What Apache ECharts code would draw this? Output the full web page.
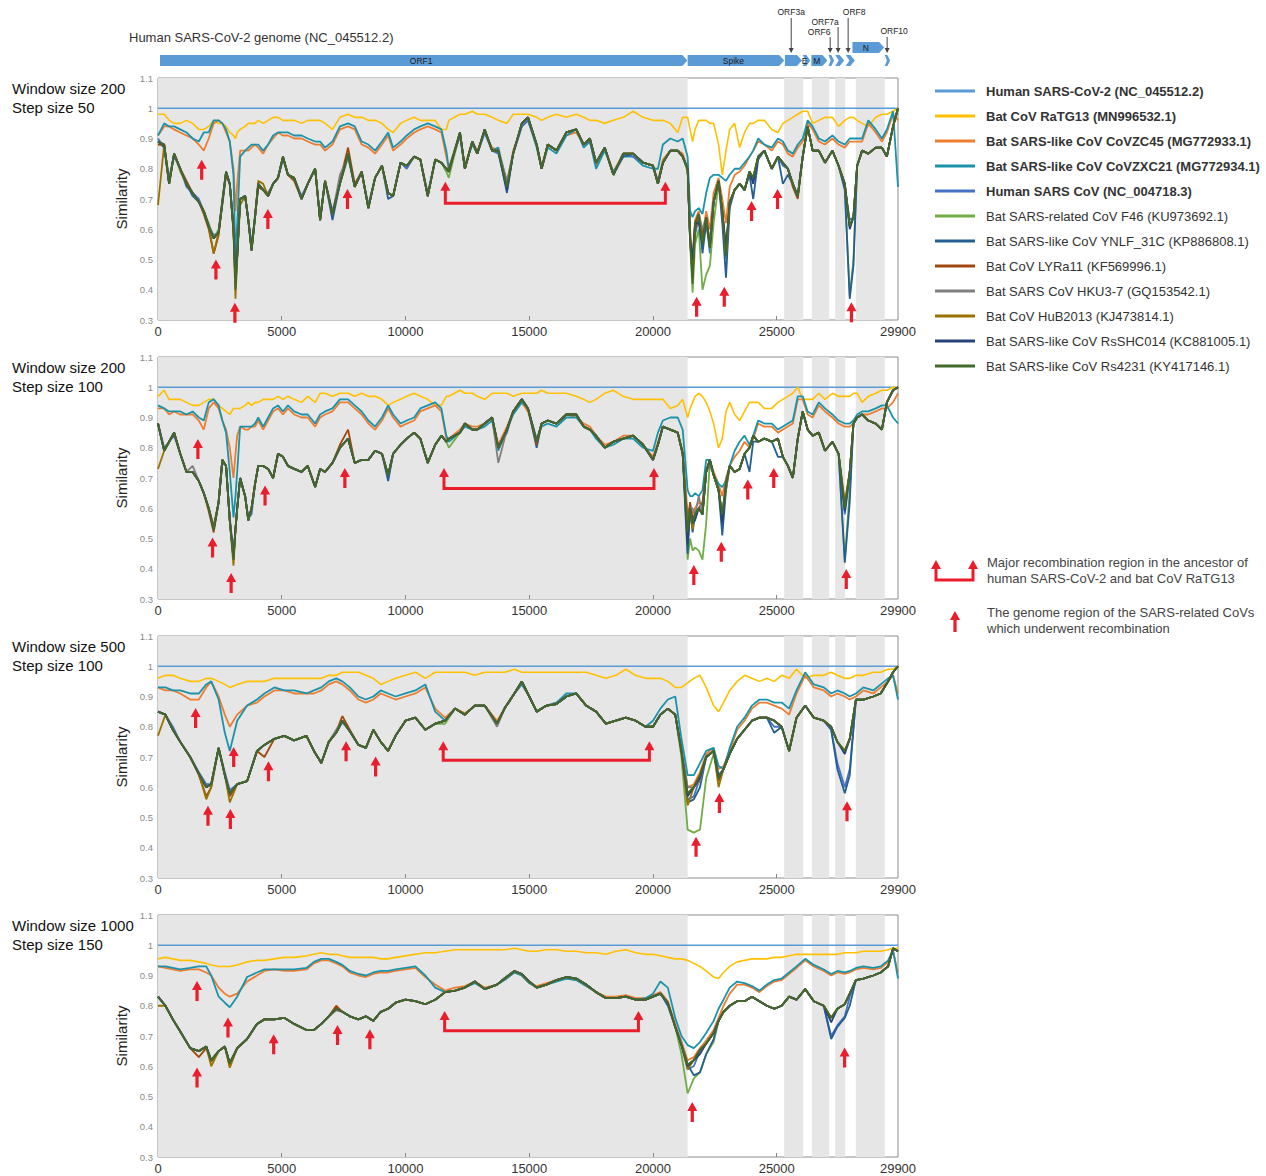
<!DOCTYPE html>
<html><head><meta charset="utf-8">
<script src="https://cdn.jsdelivr.net/npm/echarts@6/dist/echarts.min.js"></script>
<style>html,body{margin:0;padding:0;background:#fff}#c{width:1266px;height:1176px}</style>
</head><body><div id="c"></div>
<script>
// ================= DATA =================
const seriesNames = [
  'Human SARS-CoV-2 (NC_045512.2)','Bat CoV RaTG13 (MN996532.1)','Bat SARS-like CoV CoVZC45 (MG772933.1)',
  'Bat SARS-like CoV CoVZXC21 (MG772934.1)','Human SARS CoV (NC_004718.3)','Bat SARS-related CoV F46 (KU973692.1)',
  'Bat SARS-like CoV YNLF_31C (KP886808.1)','Bat CoV LYRa11 (KF569996.1)','Bat SARS CoV HKU3-7 (GQ153542.1)',
  'Bat CoV HuB2013 (KJ473814.1)','Bat SARS-like CoV RsSHC014 (KC881005.1)','Bat SARS-like CoV Rs4231 (KY417146.1)'];
const boldNames = seriesNames.slice(0,5);
const panelTitles = [['Window size 200','Step size 50'],['Window size 200','Step size 100'],['Window size 500','Step size 100'],['Window size 1000','Step size 150']];
const xTickLabels = [0,5000,10000,15000,20000,25000,29900];
const xTickMarks = [5000,10000,15000,20000,25000];
const yAxisName = 'Similarity';

const genomeTitle = 'Human SARS-CoV-2 genome (NC_045512.2)';
const geneNames  = ['ORF1','Spike','ORF3a','E','M','ORF6','ORF7a','ORF8','N','ORF10'];
const geneStarts = [80,21400,25330,26050,26400,27090,27360,27790,28060,29365];
const geneEnds   = [21390,25300,26020,26350,27050,27320,27725,28155,29340,29580];
const calloutNames = ['ORF3a','ORF6','ORF7a','ORF8','ORF10'];
const calloutPos   = [25585,27160,27480,27885,29460];
const shadedStarts = [0,25302,26420,27360,28195];
const shadedEnds   = [21400,26070,27120,27764,29366];

const legendNote1 = ['Major recombination region in the ancestor of','human SARS-CoV-2 and bat CoV RaTG13'];
const legendNote2 = ['The genome region of the SARS-related CoVs','which underwent recombination'];

// Human SARS-CoV-2 vs itself: flat line at 1
const sars2Pos = [0,29900];
const sars2Val = [1,1];

// sampling positions (bp) for the two window-200 panels
const pos12 = [0,250,450,650,900,1150,1400,1650,1850,2050,
2250,2450,2600,2750,2900,3050,3130,3200,3320,3520,
3650,3780,3920,4050,4250,4450,4650,4850,5050,5250,
5500,5800,6050,6350,6550,6750,7050,7350,7680,7950,
8230,8500,8770,9050,9300,9500,9800,10050,10350,10600,
10900,11200,11450,11650,11750,12200,12400,12700,12900,13200,
13500,13750,14100,14350,14700,14950,15300,15500,15750,16100,
16500,16900,17200,17450,17700,18050,18400,18800,19200,19600,
20000,20200,20400,20700,21000,21200,21400,21500,21600,21700,
21850,22000,22150,22300,22450,22650,22800,22950,23100,23300,
23500,23700,23900,24050,24250,24500,24800,25050,25250,25450,
25650,25850,26050,26250,26450,26700,26950,27250,27500,27750,
27950,28100,28250,28450,28700,29000,29250,29450,29700,29900];
// sampling positions (bp) for the window-500 and window-1000 panels
const pos34 = [0,300,600,900,1300,1650,1950,2150,2450,2700,
2900,3200,3600,4000,4300,4700,5100,5500,6000,6300,
6600,6900,7200,7450,7750,8100,8400,8700,9000,9300,
9600,10000,10400,10800,11200,11600,12000,12400,12800,13200,
13700,14000,14400,14700,15000,15300,15700,16100,16500,16900,
17300,17700,18100,18500,18900,19300,19700,20000,20300,20600,
20900,21150,21400,21650,21900,22150,22450,22650,22850,23100,
23400,23700,24000,24300,24600,24900,25200,25500,25800,26150,
26500,26900,27200,27450,27750,27950,28200,28500,28900,29200,
29500,29700,29900];

// ---------- Panel 1 (window 200, step 50) ----------
const p1_RaTG13 = [0.98,0.98,0.96,0.95,0.95,0.96,0.95,0.93,0.93,0.94,
0.96,0.95,0.95,0.94,0.92,0.91,0.90,0.92,0.93,0.94,
0.95,0.95,0.95,0.96,0.95,0.96,0.97,0.97,0.96,0.96,
0.96,0.95,0.96,0.96,0.96,0.95,0.93,0.97,0.98,0.97,
0.97,0.96,0.96,0.95,0.93,0.92,0.95,0.96,0.97,0.96,
0.96,0.96,0.93,0.93,0.96,0.98,0.98,0.99,0.98,0.98,
0.97,0.96,0.95,0.98,0.98,0.98,0.97,0.96,0.97,0.98,
0.97,0.98,0.97,0.96,0.96,0.95,0.96,0.97,0.99,0.97,
0.96,0.96,0.96,0.95,0.92,0.97,0.97,0.93,0.89,0.93,
0.96,0.96,0.96,0.95,0.95,0.88,0.78,0.86,0.93,0.95,
0.87,0.92,0.95,0.95,0.96,0.96,0.93,0.92,0.95,0.96,
0.97,0.98,0.99,0.99,0.95,0.96,0.97,0.97,0.94,0.96,
0.97,0.97,0.96,0.95,0.94,0.97,0.98,0.98,0.99,1.00];
const p1_CoVZC45 = [0.91,0.94,0.94,0.93,0.92,0.91,0.90,0.88,0.86,0.90,
0.95,0.96,0.95,0.92,0.89,0.80,0.66,0.75,0.86,0.86,
0.86,0.87,0.88,0.87,0.85,0.88,0.90,0.92,0.91,0.91,
0.90,0.90,0.89,0.88,0.88,0.86,0.88,0.93,0.94,0.93,
0.88,0.87,0.85,0.88,0.91,0.86,0.88,0.90,0.92,0.93,
0.94,0.93,0.92,0.84,0.80,0.91,0.81,0.89,0.86,0.92,
0.87,0.86,0.75,0.86,0.94,0.96,0.88,0.81,0.88,0.86,
0.91,0.92,0.88,0.89,0.81,0.87,0.79,0.85,0.85,0.82,
0.81,0.76,0.83,0.86,0.86,0.85,0.80,0.60,0.50,0.63,
0.66,0.58,0.66,0.60,0.72,0.77,0.70,0.62,0.74,0.78,
0.79,0.81,0.84,0.86,0.89,0.88,0.86,0.89,0.88,0.85,
0.84,0.87,0.89,0.95,0.93,0.89,0.88,0.90,0.88,0.87,
0.89,0.89,0.89,0.89,0.95,0.92,0.89,0.92,0.98,0.96];
const p1_CoVZXC21 = [0.91,0.95,0.94,0.94,0.93,0.92,0.90,0.89,0.92,0.92,
0.96,0.96,0.95,0.93,0.89,0.78,0.50,0.62,0.84,0.86,
0.87,0.88,0.88,0.88,0.86,0.88,0.91,0.92,0.92,0.92,
0.91,0.91,0.90,0.89,0.89,0.87,0.89,0.94,0.95,0.94,
0.89,0.88,0.86,0.89,0.92,0.87,0.89,0.91,0.93,0.94,
0.95,0.94,0.93,0.86,0.80,0.91,0.81,0.88,0.85,0.92,
0.86,0.87,0.75,0.85,0.94,0.96,0.87,0.80,0.87,0.85,
0.91,0.93,0.87,0.89,0.80,0.86,0.79,0.84,0.84,0.81,
0.80,0.80,0.88,0.90,0.89,0.90,0.84,0.66,0.64,0.66,
0.67,0.65,0.72,0.77,0.78,0.78,0.77,0.76,0.78,0.80,
0.80,0.82,0.84,0.86,0.90,0.88,0.87,0.90,0.89,0.86,
0.85,0.88,0.90,0.96,0.94,0.90,0.89,0.91,0.89,0.88,
0.90,0.90,0.90,0.90,0.96,0.93,0.90,0.93,0.99,0.74];
const p1_SARS = [0.90,0.87,0.77,0.84,0.80,0.74,0.72,0.70,0.66,0.61,
0.58,0.59,0.68,0.78,0.75,0.61,0.44,0.52,0.70,0.71,
0.63,0.55,0.64,0.74,0.73,0.72,0.75,0.77,0.83,0.78,
0.77,0.71,0.75,0.80,0.64,0.76,0.66,0.75,0.84,0.74,
0.79,0.68,0.77,0.81,0.72,0.71,0.82,0.80,0.84,0.83,
0.72,0.83,0.82,0.80,0.79,0.91,0.80,0.89,0.85,0.92,
0.86,0.85,0.73,0.85,0.94,0.96,0.88,0.80,0.88,0.86,
0.92,0.93,0.88,0.89,0.82,0.87,0.78,0.85,0.84,0.82,
0.81,0.76,0.82,0.86,0.86,0.84,0.80,0.56,0.45,0.58,
0.64,0.57,0.63,0.52,0.69,0.76,0.66,0.53,0.69,0.73,
0.75,0.73,0.79,0.76,0.84,0.86,0.80,0.84,0.81,0.80,
0.75,0.71,0.84,0.94,0.86,0.86,0.82,0.86,0.81,0.74,
0.63,0.64,0.81,0.86,0.85,0.87,0.87,0.84,0.94,1.00];
const p1_F46 = [0.88,0.88,0.76,0.85,0.79,0.75,0.72,0.69,0.66,0.62,
0.57,0.60,0.69,0.79,0.75,0.60,0.42,0.51,0.70,0.71,
0.63,0.53,0.65,0.75,0.73,0.71,0.75,0.77,0.84,0.78,
0.77,0.70,0.75,0.80,0.63,0.76,0.65,0.75,0.84,0.74,
0.79,0.67,0.77,0.81,0.72,0.71,0.82,0.81,0.84,0.83,
0.71,0.83,0.82,0.79,0.77,0.92,0.80,0.89,0.85,0.93,
0.86,0.86,0.74,0.85,0.95,0.97,0.88,0.80,0.88,0.86,
0.92,0.93,0.88,0.90,0.82,0.87,0.78,0.85,0.85,0.82,
0.81,0.75,0.82,0.86,0.86,0.84,0.79,0.55,0.39,0.55,
0.60,0.40,0.45,0.48,0.62,0.75,0.66,0.50,0.69,0.73,
0.75,0.73,0.79,0.77,0.84,0.86,0.80,0.84,0.82,0.80,
0.75,0.71,0.84,0.94,0.86,0.86,0.82,0.86,0.81,0.74,
0.38,0.50,0.81,0.86,0.85,0.87,0.87,0.84,0.94,1.00];
const p1_YNLF = [0.89,0.87,0.75,0.85,0.80,0.75,0.71,0.69,0.66,0.61,
0.57,0.59,0.69,0.79,0.75,0.61,0.45,0.52,0.70,0.71,
0.63,0.54,0.64,0.75,0.73,0.71,0.75,0.77,0.84,0.78,
0.77,0.70,0.75,0.80,0.63,0.76,0.63,0.75,0.85,0.74,
0.79,0.67,0.77,0.81,0.70,0.71,0.82,0.81,0.84,0.83,
0.71,0.83,0.82,0.80,0.79,0.92,0.80,0.89,0.85,0.93,
0.86,0.86,0.72,0.85,0.95,0.97,0.88,0.80,0.88,0.86,
0.92,0.93,0.88,0.90,0.82,0.87,0.78,0.84,0.85,0.82,
0.81,0.75,0.82,0.86,0.86,0.84,0.80,0.56,0.46,0.60,
0.64,0.52,0.62,0.54,0.69,0.76,0.62,0.44,0.67,0.73,
0.75,0.73,0.78,0.70,0.83,0.86,0.80,0.84,0.75,0.78,
0.75,0.71,0.84,0.94,0.86,0.86,0.82,0.86,0.81,0.73,
0.37,0.48,0.81,0.86,0.85,0.87,0.87,0.84,0.94,1.00];
const p1_LYRa11 = [0.88,0.88,0.75,0.85,0.80,0.76,0.72,0.69,0.65,0.60,
0.52,0.58,0.69,0.78,0.75,0.60,0.42,0.51,0.70,0.71,
0.63,0.53,0.64,0.74,0.73,0.71,0.75,0.77,0.84,0.78,
0.76,0.70,0.75,0.80,0.63,0.76,0.65,0.76,0.87,0.75,
0.79,0.67,0.77,0.81,0.72,0.71,0.82,0.81,0.84,0.83,
0.71,0.83,0.82,0.80,0.80,0.92,0.80,0.89,0.85,0.93,
0.86,0.86,0.74,0.85,0.95,0.97,0.88,0.80,0.88,0.86,
0.92,0.93,0.88,0.90,0.82,0.87,0.78,0.85,0.85,0.82,
0.81,0.75,0.82,0.86,0.86,0.84,0.80,0.57,0.44,0.60,
0.65,0.58,0.64,0.55,0.69,0.76,0.66,0.52,0.69,0.73,
0.75,0.73,0.79,0.77,0.84,0.86,0.80,0.84,0.82,0.80,
0.74,0.70,0.84,0.94,0.86,0.86,0.82,0.86,0.81,0.75,
0.61,0.64,0.81,0.86,0.85,0.87,0.87,0.84,0.94,1.00];
const p1_HKU3 = [0.89,0.88,0.76,0.85,0.80,0.75,0.72,0.69,0.66,0.61,
0.57,0.59,0.70,0.79,0.75,0.60,0.41,0.51,0.70,0.71,
0.63,0.53,0.64,0.75,0.73,0.71,0.75,0.77,0.84,0.78,
0.77,0.70,0.75,0.80,0.63,0.76,0.65,0.78,0.84,0.74,
0.79,0.67,0.77,0.81,0.72,0.71,0.82,0.81,0.84,0.83,
0.71,0.83,0.82,0.80,0.79,0.92,0.80,0.89,0.85,0.93,
0.86,0.86,0.76,0.85,0.95,0.97,0.88,0.80,0.88,0.86,
0.92,0.93,0.88,0.90,0.82,0.87,0.78,0.85,0.85,0.82,
0.81,0.75,0.82,0.86,0.86,0.84,0.80,0.58,0.47,0.62,
0.65,0.60,0.64,0.56,0.69,0.76,0.66,0.51,0.69,0.73,
0.75,0.73,0.79,0.77,0.84,0.86,0.80,0.84,0.82,0.80,
0.75,0.71,0.84,0.94,0.86,0.86,0.82,0.86,0.81,0.75,
0.61,0.64,0.81,0.86,0.85,0.87,0.87,0.84,0.94,1.00];
const p1_HuB2013 = [0.68,0.88,0.75,0.85,0.80,0.75,0.72,0.69,0.66,0.61,
0.52,0.59,0.69,0.79,0.75,0.59,0.37,0.50,0.68,0.71,
0.63,0.53,0.64,0.76,0.75,0.71,0.75,0.77,0.84,0.78,
0.77,0.70,0.75,0.80,0.63,0.76,0.65,0.75,0.85,0.74,
0.79,0.67,0.77,0.81,0.72,0.71,0.82,0.81,0.84,0.83,
0.71,0.83,0.82,0.80,0.79,0.92,0.80,0.89,0.85,0.93,
0.86,0.86,0.74,0.85,0.95,0.97,0.88,0.80,0.88,0.86,
0.92,0.93,0.88,0.90,0.82,0.87,0.78,0.85,0.85,0.82,
0.81,0.75,0.82,0.86,0.86,0.84,0.80,0.57,0.44,0.62,
0.65,0.56,0.64,0.54,0.69,0.76,0.66,0.52,0.69,0.73,
0.75,0.73,0.79,0.77,0.84,0.86,0.80,0.84,0.82,0.80,
0.75,0.71,0.84,0.94,0.86,0.86,0.82,0.86,0.81,0.75,
0.61,0.64,0.81,0.86,0.85,0.87,0.87,0.84,0.94,1.00];
const p1_RsSHC014 = [0.89,0.88,0.75,0.85,0.80,0.75,0.72,0.69,0.66,0.61,
0.57,0.59,0.69,0.79,0.75,0.60,0.44,0.51,0.70,0.71,
0.63,0.53,0.64,0.75,0.73,0.71,0.75,0.77,0.84,0.78,
0.77,0.70,0.75,0.80,0.63,0.76,0.65,0.75,0.85,0.74,
0.79,0.67,0.77,0.81,0.72,0.71,0.82,0.81,0.84,0.83,
0.71,0.83,0.82,0.80,0.79,0.92,0.80,0.89,0.85,0.93,
0.86,0.86,0.73,0.85,0.95,0.97,0.88,0.80,0.88,0.86,
0.92,0.93,0.88,0.90,0.82,0.87,0.78,0.85,0.85,0.82,
0.81,0.75,0.82,0.86,0.86,0.84,0.80,0.57,0.50,0.62,
0.62,0.55,0.64,0.54,0.69,0.76,0.66,0.54,0.69,0.73,
0.75,0.73,0.79,0.75,0.84,0.86,0.80,0.84,0.82,0.80,
0.75,0.71,0.84,0.94,0.86,0.86,0.82,0.86,0.81,0.75,
0.60,0.64,0.81,0.86,0.85,0.87,0.87,0.84,0.94,1.00];
const p1_Rs4231 = [0.89,0.88,0.75,0.85,0.80,0.75,0.72,0.69,0.66,0.61,
0.57,0.59,0.69,0.79,0.75,0.60,0.40,0.51,0.70,0.71,
0.63,0.53,0.64,0.75,0.73,0.71,0.75,0.77,0.84,0.78,
0.77,0.70,0.75,0.80,0.63,0.76,0.65,0.75,0.85,0.74,
0.79,0.67,0.77,0.81,0.72,0.71,0.82,0.81,0.84,0.83,
0.71,0.83,0.82,0.80,0.79,0.92,0.80,0.89,0.85,0.93,
0.86,0.86,0.74,0.85,0.95,0.97,0.88,0.80,0.88,0.86,
0.92,0.93,0.88,0.90,0.82,0.87,0.78,0.85,0.85,0.82,
0.81,0.75,0.82,0.86,0.86,0.84,0.80,0.57,0.42,0.62,
0.65,0.55,0.64,0.54,0.69,0.76,0.66,0.51,0.69,0.73,
0.75,0.73,0.79,0.77,0.84,0.86,0.80,0.84,0.82,0.80,
0.75,0.71,0.84,0.94,0.86,0.86,0.82,0.86,0.81,0.75,
0.61,0.64,0.81,0.86,0.85,0.87,0.87,0.84,0.94,1.00];
const p1_arrowPos = [1765,2340,3107,4439,7655,21763,22881,23983,25032,28018];
const p1_arrowVal = [0.83,0.50,0.357,0.667,0.733,0.377,0.41,0.693,0.733,0.359];
const p1_bracket = [11610,20500,0.757,0.686];

// ---------- Panel 2 (window 200, step 100) ----------
const p2_RaTG13 = [0.97,0.99,0.96,0.96,0.96,0.95,0.94,0.94,0.95,0.96,
0.96,0.94,0.93,0.92,0.91,0.93,0.93,0.93,0.93,0.94,
0.95,0.94,0.95,0.95,0.96,0.96,0.96,0.97,0.96,0.97,
0.96,0.95,0.97,0.95,0.98,0.98,0.97,0.98,0.98,0.97,
0.98,0.97,0.97,0.96,0.94,0.95,0.96,0.97,0.98,0.97,
0.96,0.94,0.94,0.97,0.97,0.99,0.98,0.98,0.97,0.96,
0.98,0.98,0.98,0.97,0.98,0.98,0.98,0.99,0.98,0.98,
0.98,0.97,0.96,0.95,0.96,0.98,0.99,0.97,0.96,0.96,
0.96,0.96,0.96,0.93,0.94,0.96,0.90,0.93,0.95,0.97,
0.98,0.97,0.95,0.92,0.88,0.80,0.83,0.92,0.95,0.91,
0.89,0.92,0.95,0.95,0.95,0.93,0.93,0.95,0.96,0.97,
0.98,1.00,0.96,0.96,0.96,0.98,0.96,0.98,0.97,0.97,
0.97,0.98,0.98,0.95,0.97,0.98,0.99,0.99,1.00,1.00];
const p2_CoVZC45 = [0.93,0.93,0.91,0.92,0.91,0.91,0.91,0.89,0.86,0.93,
0.95,0.93,0.89,0.86,0.80,0.70,0.78,0.84,0.87,0.86,
0.86,0.87,0.87,0.89,0.86,0.89,0.92,0.93,0.91,0.93,
0.91,0.90,0.90,0.87,0.90,0.91,0.92,0.95,0.95,0.93,
0.91,0.88,0.86,0.89,0.93,0.90,0.87,0.88,0.89,0.92,
0.93,0.94,0.92,0.83,0.83,0.86,0.88,0.87,0.87,0.88,
0.90,0.81,0.87,0.92,0.95,0.92,0.82,0.88,0.89,0.88,
0.91,0.90,0.88,0.87,0.84,0.81,0.82,0.84,0.84,0.81,
0.77,0.82,0.87,0.86,0.85,0.79,0.58,0.61,0.58,0.60,
0.62,0.61,0.73,0.76,0.72,0.68,0.64,0.70,0.74,0.77,
0.79,0.82,0.80,0.83,0.88,0.87,0.87,0.85,0.86,0.87,
0.88,0.96,0.96,0.91,0.90,0.94,0.92,0.90,0.88,0.87,
0.87,0.88,0.90,0.91,0.91,0.92,0.93,0.93,0.95,0.98];
const p2_CoVZXC21 = [0.94,0.93,0.92,0.92,0.92,0.91,0.92,0.90,0.89,0.95,
0.96,0.94,0.89,0.85,0.72,0.57,0.64,0.72,0.87,0.87,
0.87,0.87,0.88,0.90,0.87,0.90,0.93,0.94,0.92,0.94,
0.92,0.91,0.91,0.88,0.91,0.92,0.93,0.96,0.96,0.94,
0.92,0.89,0.87,0.90,0.94,0.91,0.88,0.89,0.90,0.93,
0.94,0.95,0.93,0.84,0.82,0.85,0.87,0.86,0.86,0.87,
0.89,0.79,0.86,0.91,0.95,0.93,0.83,0.87,0.88,0.87,
0.90,0.90,0.87,0.86,0.83,0.80,0.81,0.83,0.83,0.80,
0.79,0.85,0.89,0.90,0.90,0.86,0.66,0.64,0.64,0.65,
0.64,0.66,0.76,0.76,0.71,0.68,0.67,0.69,0.74,0.79,
0.82,0.84,0.81,0.84,0.89,0.88,0.88,0.86,0.87,0.88,
0.89,0.97,0.97,0.92,0.91,0.95,0.93,0.91,0.89,0.88,
0.88,0.89,0.91,0.92,0.92,0.93,0.94,0.94,0.90,0.88];
const p2_SARS = [0.88,0.80,0.82,0.84,0.78,0.72,0.72,0.69,0.65,0.60,
0.54,0.62,0.75,0.74,0.57,0.45,0.53,0.60,0.70,0.64,
0.57,0.58,0.68,0.74,0.74,0.73,0.70,0.78,0.77,0.74,
0.73,0.72,0.74,0.67,0.73,0.72,0.75,0.80,0.83,0.75,
0.76,0.76,0.79,0.78,0.70,0.78,0.81,0.83,0.85,0.83,
0.75,0.81,0.84,0.82,0.83,0.85,0.88,0.86,0.86,0.88,
0.90,0.80,0.85,0.92,0.96,0.93,0.82,0.88,0.89,0.88,
0.91,0.91,0.87,0.86,0.84,0.80,0.82,0.83,0.84,0.81,
0.76,0.81,0.87,0.86,0.85,0.78,0.50,0.60,0.57,0.58,
0.60,0.58,0.72,0.76,0.71,0.66,0.56,0.68,0.74,0.72,
0.73,0.78,0.80,0.84,0.82,0.83,0.82,0.83,0.77,0.74,
0.70,0.83,0.92,0.86,0.84,0.85,0.79,0.82,0.78,0.58,
0.70,0.88,0.90,0.91,0.89,0.88,0.86,0.95,0.99,1.00];
const p2_F46 = [0.88,0.79,0.82,0.85,0.78,0.72,0.72,0.69,0.65,0.60,
0.53,0.62,0.76,0.74,0.56,0.43,0.53,0.60,0.70,0.64,
0.56,0.60,0.68,0.74,0.74,0.73,0.70,0.78,0.77,0.74,
0.73,0.72,0.74,0.67,0.73,0.72,0.75,0.80,0.83,0.75,
0.76,0.76,0.79,0.78,0.71,0.78,0.81,0.83,0.85,0.83,
0.75,0.81,0.84,0.82,0.80,0.85,0.88,0.86,0.86,0.88,
0.90,0.80,0.86,0.92,0.96,0.93,0.82,0.88,0.89,0.88,
0.91,0.91,0.87,0.86,0.84,0.80,0.82,0.83,0.84,0.81,
0.76,0.81,0.87,0.86,0.85,0.78,0.43,0.50,0.46,0.47,
0.46,0.43,0.55,0.76,0.71,0.66,0.58,0.68,0.74,0.72,
0.73,0.78,0.80,0.84,0.82,0.83,0.82,0.83,0.77,0.74,
0.70,0.83,0.92,0.86,0.84,0.85,0.79,0.82,0.78,0.43,
0.66,0.88,0.90,0.91,0.89,0.88,0.86,0.95,0.99,1.00];
const p2_YNLF = [0.88,0.79,0.82,0.85,0.78,0.72,0.72,0.69,0.65,0.60,
0.53,0.62,0.76,0.74,0.56,0.44,0.53,0.60,0.70,0.64,
0.56,0.60,0.68,0.74,0.74,0.73,0.70,0.78,0.77,0.74,
0.73,0.72,0.74,0.67,0.73,0.72,0.75,0.80,0.83,0.75,
0.76,0.76,0.79,0.78,0.69,0.78,0.81,0.83,0.85,0.83,
0.75,0.81,0.84,0.82,0.83,0.85,0.88,0.86,0.86,0.88,
0.90,0.80,0.86,0.92,0.96,0.93,0.80,0.88,0.89,0.88,
0.91,0.91,0.87,0.86,0.84,0.80,0.82,0.83,0.84,0.81,
0.76,0.81,0.87,0.86,0.85,0.78,0.45,0.60,0.52,0.58,
0.60,0.58,0.72,0.76,0.71,0.66,0.51,0.66,0.74,0.72,
0.73,0.78,0.72,0.82,0.82,0.83,0.82,0.77,0.77,0.74,
0.70,0.83,0.92,0.86,0.84,0.85,0.79,0.82,0.78,0.42,
0.62,0.88,0.90,0.91,0.89,0.88,0.86,0.95,0.99,1.00];
const p2_LYRa11 = [0.88,0.79,0.82,0.85,0.78,0.72,0.72,0.69,0.65,0.59,
0.52,0.62,0.76,0.74,0.56,0.43,0.53,0.60,0.70,0.64,
0.56,0.60,0.68,0.74,0.74,0.73,0.70,0.78,0.77,0.74,
0.73,0.72,0.74,0.67,0.73,0.72,0.75,0.81,0.86,0.75,
0.76,0.76,0.79,0.78,0.71,0.78,0.81,0.83,0.85,0.83,
0.75,0.81,0.84,0.82,0.83,0.85,0.88,0.86,0.86,0.88,
0.90,0.80,0.86,0.92,0.96,0.93,0.81,0.88,0.89,0.88,
0.91,0.91,0.87,0.86,0.84,0.80,0.82,0.83,0.84,0.81,
0.76,0.81,0.87,0.86,0.85,0.78,0.55,0.62,0.56,0.58,
0.60,0.62,0.72,0.76,0.71,0.66,0.58,0.68,0.74,0.72,
0.73,0.78,0.80,0.84,0.82,0.83,0.82,0.83,0.77,0.74,
0.70,0.83,0.92,0.86,0.84,0.85,0.79,0.82,0.78,0.61,
0.72,0.88,0.90,0.91,0.89,0.88,0.86,0.95,0.99,1.00];
const p2_HKU3 = [0.88,0.79,0.82,0.85,0.78,0.72,0.74,0.69,0.65,0.60,
0.53,0.62,0.76,0.74,0.56,0.43,0.53,0.60,0.70,0.64,
0.56,0.60,0.68,0.74,0.74,0.73,0.70,0.78,0.77,0.74,
0.73,0.72,0.74,0.67,0.73,0.72,0.75,0.80,0.83,0.75,
0.76,0.76,0.79,0.78,0.71,0.78,0.81,0.83,0.85,0.83,
0.75,0.81,0.84,0.82,0.83,0.85,0.88,0.86,0.86,0.88,
0.90,0.75,0.86,0.92,0.96,0.93,0.82,0.88,0.89,0.88,
0.91,0.91,0.87,0.86,0.84,0.80,0.82,0.83,0.84,0.81,
0.76,0.81,0.87,0.86,0.85,0.78,0.54,0.60,0.60,0.58,
0.64,0.58,0.72,0.74,0.71,0.66,0.58,0.68,0.74,0.72,
0.73,0.78,0.80,0.84,0.82,0.83,0.82,0.83,0.77,0.74,
0.70,0.83,0.92,0.86,0.84,0.85,0.79,0.82,0.78,0.60,
0.72,0.88,0.90,0.91,0.89,0.88,0.86,0.95,0.99,1.00];
const p2_HuB2013 = [0.73,0.79,0.82,0.85,0.78,0.72,0.72,0.69,0.65,0.60,
0.54,0.62,0.76,0.74,0.56,0.41,0.53,0.60,0.70,0.64,
0.56,0.60,0.68,0.74,0.74,0.73,0.70,0.78,0.77,0.74,
0.73,0.72,0.74,0.67,0.73,0.72,0.75,0.80,0.83,0.75,
0.76,0.76,0.79,0.78,0.71,0.78,0.81,0.83,0.85,0.83,
0.75,0.81,0.84,0.82,0.83,0.85,0.88,0.86,0.86,0.88,
0.90,0.80,0.86,0.92,0.96,0.93,0.82,0.88,0.89,0.88,
0.91,0.91,0.87,0.86,0.84,0.80,0.82,0.83,0.84,0.81,
0.76,0.81,0.87,0.86,0.85,0.78,0.52,0.60,0.53,0.58,
0.60,0.58,0.72,0.76,0.71,0.66,0.57,0.66,0.74,0.72,
0.73,0.78,0.80,0.84,0.82,0.83,0.82,0.83,0.77,0.74,
0.70,0.83,0.92,0.86,0.84,0.85,0.79,0.82,0.78,0.62,
0.72,0.88,0.90,0.91,0.89,0.88,0.86,0.95,0.99,1.00];
const p2_RsSHC014 = [0.88,0.79,0.82,0.85,0.78,0.72,0.72,0.69,0.65,0.60,
0.53,0.62,0.76,0.74,0.56,0.44,0.53,0.60,0.70,0.64,
0.56,0.60,0.68,0.74,0.74,0.73,0.70,0.78,0.77,0.74,
0.73,0.72,0.74,0.67,0.73,0.72,0.75,0.80,0.83,0.75,
0.76,0.76,0.79,0.78,0.71,0.78,0.81,0.83,0.85,0.83,
0.75,0.81,0.84,0.82,0.83,0.85,0.88,0.86,0.86,0.88,
0.90,0.80,0.86,0.92,0.96,0.93,0.82,0.88,0.89,0.88,
0.91,0.91,0.87,0.86,0.84,0.80,0.82,0.83,0.84,0.81,
0.76,0.81,0.87,0.86,0.85,0.78,0.48,0.60,0.55,0.56,
0.60,0.58,0.72,0.76,0.71,0.66,0.55,0.68,0.74,0.72,
0.73,0.78,0.80,0.84,0.82,0.83,0.82,0.83,0.77,0.74,
0.70,0.83,0.92,0.86,0.84,0.85,0.79,0.82,0.78,0.59,
0.72,0.88,0.90,0.91,0.89,0.88,0.86,0.95,0.99,1.00];
const p2_Rs4231 = [0.88,0.79,0.82,0.85,0.78,0.72,0.72,0.69,0.65,0.60,
0.53,0.62,0.76,0.74,0.56,0.43,0.53,0.60,0.70,0.64,
0.56,0.60,0.68,0.74,0.74,0.73,0.70,0.78,0.77,0.74,
0.73,0.72,0.74,0.67,0.73,0.72,0.75,0.80,0.83,0.75,
0.76,0.76,0.79,0.78,0.71,0.78,0.81,0.83,0.85,0.83,
0.75,0.81,0.84,0.82,0.83,0.85,0.88,0.86,0.86,0.88,
0.90,0.80,0.86,0.92,0.96,0.93,0.82,0.88,0.89,0.88,
0.91,0.91,0.87,0.86,0.84,0.80,0.82,0.83,0.84,0.81,
0.76,0.81,0.87,0.86,0.85,0.78,0.52,0.60,0.55,0.58,
0.60,0.58,0.72,0.76,0.71,0.66,0.58,0.68,0.74,0.72,
0.73,0.78,0.80,0.84,0.82,0.83,0.82,0.83,0.77,0.74,
0.70,0.83,0.92,0.86,0.84,0.85,0.79,0.82,0.78,0.60,
0.72,0.88,0.90,0.91,0.89,0.88,0.86,0.95,0.99,1.00];
const p2_arrowPos = [1612,2204,2955,4325,7550,21650,22760,23830,24880,27810];
const p2_arrowVal = [0.829,0.503,0.386,0.675,0.733,0.412,0.489,0.695,0.733,0.399];
const p2_bracket = [11555,20040,0.733,0.665];

// ---------- Panel 3 (window 500, step 100) ----------
const p3_RaTG13 = [0.96,0.97,0.97,0.96,0.95,0.95,0.96,0.96,0.95,0.94,
0.93,0.94,0.95,0.95,0.95,0.96,0.96,0.96,0.96,0.96,
0.96,0.97,0.97,0.98,0.98,0.98,0.97,0.96,0.94,0.95,
0.96,0.97,0.98,0.96,0.98,0.98,0.98,0.98,0.97,0.98,
0.98,0.98,0.99,0.98,0.98,0.98,0.98,0.98,0.98,0.98,
0.98,0.97,0.96,0.97,0.99,0.97,0.96,0.96,0.96,0.95,
0.93,0.93,0.945,0.96,0.97,0.93,0.87,0.85,0.88,0.92,
0.95,0.97,0.96,0.95,0.96,0.95,0.97,0.96,0.99,0.96,
0.97,0.97,0.98,0.97,0.96,0.96,0.97,0.97,0.98,0.98,
0.99,0.99,1.00];
const p3_CoVZC45 = [0.93,0.92,0.92,0.91,0.89,0.89,0.93,0.95,0.90,0.84,
0.80,0.84,0.87,0.88,0.90,0.92,0.92,0.91,0.91,0.91,
0.92,0.94,0.95,0.94,0.92,0.89,0.88,0.89,0.91,0.90,
0.89,0.90,0.91,0.93,0.86,0.83,0.86,0.845,0.87,0.87,
0.82,0.86,0.91,0.94,0.90,0.85,0.87,0.88,0.90,0.91,
0.87,0.85,0.81,0.82,0.83,0.82,0.80,0.80,0.84,0.86,
0.84,0.73,0.60,0.61,0.65,0.71,0.73,0.66,0.67,0.72,
0.79,0.82,0.86,0.88,0.88,0.87,0.86,0.84,0.91,0.97,
0.93,0.92,0.90,0.91,0.90,0.89,0.90,0.92,0.91,0.93,
0.95,0.97,0.91];
const p3_CoVZXC21 = [0.93,0.93,0.92,0.92,0.91,0.91,0.94,0.95,0.89,0.78,
0.72,0.82,0.87,0.89,0.91,0.93,0.92,0.92,0.91,0.92,
0.93,0.95,0.96,0.95,0.93,0.90,0.89,0.90,0.92,0.91,
0.90,0.91,0.92,0.94,0.85,0.82,0.86,0.84,0.87,0.87,
0.81,0.86,0.91,0.94,0.90,0.85,0.87,0.88,0.91,0.91,
0.87,0.85,0.81,0.82,0.83,0.82,0.80,0.82,0.86,0.89,
0.90,0.76,0.64,0.64,0.68,0.72,0.73,0.67,0.66,0.73,
0.80,0.83,0.87,0.89,0.89,0.88,0.88,0.86,0.92,0.98,
0.94,0.93,0.91,0.92,0.91,0.90,0.91,0.93,0.92,0.94,
0.96,0.97,0.89];
const p3_SARS = [0.85,0.84,0.80,0.75,0.70,0.65,0.61,0.61,0.73,0.65,
0.59,0.61,0.62,0.72,0.74,0.76,0.77,0.755,0.77,0.72,
0.68,0.75,0.78,0.815,0.785,0.74,0.73,0.79,0.75,0.72,
0.77,0.82,0.83,0.79,0.81,0.82,0.86,0.84,0.87,0.87,
0.81,0.86,0.91,0.95,0.90,0.85,0.87,0.875,0.90,0.91,
0.87,0.85,0.81,0.82,0.83,0.82,0.80,0.80,0.84,0.86,
0.84,0.71,0.56,0.57,0.63,0.70,0.72,0.63,0.66,0.71,
0.76,0.79,0.82,0.83,0.83,0.80,0.80,0.72,0.83,0.87,
0.83,0.82,0.79,0.68,0.60,0.66,0.89,0.89,0.90,0.91,
0.95,0.98,1.00];
const p3_F46 = [0.85,0.84,0.79,0.75,0.70,0.645,0.60,0.61,0.73,0.64,
0.58,0.61,0.62,0.72,0.74,0.76,0.77,0.755,0.77,0.72,
0.68,0.75,0.78,0.82,0.785,0.74,0.73,0.79,0.75,0.72,
0.77,0.82,0.83,0.79,0.81,0.81,0.86,0.84,0.87,0.87,
0.81,0.86,0.91,0.95,0.90,0.85,0.87,0.875,0.90,0.91,
0.87,0.85,0.81,0.82,0.83,0.82,0.80,0.80,0.84,0.86,
0.84,0.70,0.46,0.45,0.46,0.63,0.71,0.63,0.66,0.71,
0.76,0.79,0.82,0.83,0.83,0.82,0.80,0.72,0.83,0.87,
0.83,0.82,0.80,0.75,0.72,0.76,0.89,0.89,0.90,0.91,
0.95,0.98,1.00];
const p3_YNLF = [0.85,0.84,0.79,0.75,0.70,0.645,0.60,0.61,0.73,0.64,
0.58,0.61,0.62,0.72,0.74,0.76,0.77,0.755,0.77,0.72,
0.68,0.75,0.78,0.82,0.785,0.74,0.73,0.79,0.75,0.72,
0.77,0.82,0.83,0.79,0.81,0.82,0.86,0.84,0.87,0.87,
0.81,0.86,0.91,0.95,0.90,0.85,0.87,0.875,0.90,0.91,
0.87,0.85,0.81,0.82,0.83,0.82,0.80,0.80,0.84,0.86,
0.84,0.72,0.55,0.56,0.60,0.70,0.72,0.64,0.66,0.71,
0.76,0.79,0.82,0.83,0.83,0.78,0.80,0.72,0.83,0.87,
0.83,0.82,0.79,0.66,0.58,0.64,0.89,0.89,0.90,0.91,
0.95,0.98,1.00];
const p3_LYRa11 = [0.85,0.84,0.79,0.75,0.70,0.64,0.57,0.60,0.73,0.64,
0.57,0.61,0.62,0.72,0.70,0.76,0.77,0.755,0.77,0.72,
0.68,0.75,0.785,0.835,0.79,0.74,0.73,0.79,0.75,0.72,
0.77,0.82,0.83,0.79,0.81,0.82,0.86,0.84,0.87,0.87,
0.81,0.86,0.91,0.95,0.90,0.85,0.87,0.875,0.90,0.91,
0.87,0.85,0.81,0.82,0.83,0.82,0.80,0.80,0.84,0.86,
0.84,0.72,0.58,0.60,0.64,0.70,0.72,0.62,0.66,0.71,
0.76,0.79,0.82,0.83,0.83,0.82,0.80,0.72,0.83,0.87,
0.83,0.82,0.80,0.75,0.72,0.76,0.89,0.89,0.90,0.91,
0.95,0.98,1.00];
const p3_HKU3 = [0.85,0.84,0.79,0.75,0.70,0.645,0.60,0.61,0.73,0.64,
0.58,0.61,0.62,0.72,0.74,0.76,0.77,0.755,0.77,0.72,
0.68,0.75,0.79,0.82,0.785,0.74,0.73,0.79,0.75,0.72,
0.77,0.82,0.83,0.79,0.81,0.82,0.86,0.84,0.87,0.87,
0.80,0.86,0.91,0.95,0.90,0.85,0.87,0.875,0.90,0.91,
0.87,0.85,0.81,0.82,0.83,0.82,0.80,0.80,0.84,0.86,
0.84,0.72,0.60,0.60,0.62,0.70,0.72,0.63,0.66,0.71,
0.76,0.79,0.82,0.83,0.83,0.82,0.80,0.72,0.83,0.87,
0.83,0.82,0.80,0.75,0.72,0.76,0.89,0.89,0.90,0.91,
0.95,0.98,1.00];
const p3_HuB2013 = [0.77,0.84,0.79,0.75,0.70,0.645,0.56,0.60,0.73,0.64,
0.55,0.61,0.62,0.72,0.74,0.76,0.77,0.755,0.77,0.72,
0.68,0.75,0.78,0.82,0.785,0.74,0.73,0.79,0.75,0.72,
0.77,0.82,0.83,0.79,0.81,0.82,0.86,0.84,0.87,0.87,
0.81,0.86,0.91,0.95,0.90,0.85,0.87,0.875,0.90,0.91,
0.87,0.85,0.81,0.82,0.83,0.82,0.80,0.80,0.84,0.86,
0.84,0.72,0.54,0.60,0.64,0.70,0.72,0.60,0.66,0.71,
0.76,0.79,0.82,0.83,0.83,0.82,0.80,0.72,0.83,0.87,
0.83,0.82,0.80,0.75,0.72,0.76,0.89,0.89,0.90,0.91,
0.95,0.98,1.00];
const p3_RsSHC014 = [0.85,0.84,0.79,0.75,0.70,0.645,0.60,0.61,0.73,0.64,
0.58,0.61,0.62,0.72,0.74,0.76,0.77,0.755,0.77,0.72,
0.68,0.75,0.78,0.82,0.785,0.74,0.73,0.79,0.75,0.72,
0.77,0.82,0.83,0.79,0.81,0.82,0.86,0.84,0.87,0.87,
0.81,0.86,0.91,0.95,0.90,0.85,0.87,0.875,0.90,0.91,
0.87,0.85,0.81,0.82,0.83,0.82,0.80,0.80,0.84,0.86,
0.84,0.72,0.57,0.60,0.63,0.70,0.72,0.63,0.66,0.71,
0.76,0.79,0.82,0.83,0.83,0.82,0.80,0.72,0.83,0.87,
0.83,0.82,0.80,0.75,0.71,0.76,0.89,0.89,0.90,0.91,
0.95,0.98,1.00];
const p3_Rs4231 = [0.85,0.84,0.79,0.75,0.70,0.645,0.60,0.61,0.73,0.64,
0.58,0.61,0.62,0.72,0.74,0.76,0.77,0.755,0.77,0.72,
0.68,0.75,0.78,0.82,0.785,0.74,0.73,0.79,0.75,0.72,
0.77,0.82,0.83,0.79,0.81,0.82,0.86,0.84,0.87,0.87,
0.81,0.86,0.91,0.95,0.90,0.85,0.87,0.875,0.90,0.91,
0.87,0.85,0.81,0.82,0.83,0.82,0.80,0.80,0.84,0.86,
0.84,0.72,0.58,0.60,0.64,0.70,0.72,0.63,0.66,0.71,
0.76,0.79,0.82,0.83,0.83,0.82,0.80,0.72,0.83,0.87,
0.83,0.82,0.80,0.75,0.72,0.76,0.89,0.89,0.90,0.91,
0.95,0.98,1.00];
const p3_arrowPos = [1519,2019,2924,3058,4463,7599,8792,21740,22683,27839];
const p3_arrowVal = [0.862,0.539,0.528,0.733,0.686,0.752,0.702,0.436,0.581,0.554];
const p3_bracket = [11524,19855,0.752,0.689];

// ---------- Panel 4 (window 1000, step 150) ----------
const p4_RaTG13 = [0.955,0.96,0.955,0.95,0.95,0.945,0.94,0.935,0.93,0.93,
0.93,0.935,0.945,0.95,0.95,0.955,0.96,0.96,0.965,0.97,
0.975,0.97,0.97,0.965,0.96,0.96,0.96,0.96,0.955,0.955,
0.96,0.965,0.97,0.975,0.975,0.98,0.985,0.985,0.985,0.985,
0.985,0.985,0.99,0.985,0.98,0.98,0.985,0.985,0.98,0.98,
0.975,0.975,0.97,0.98,0.985,0.975,0.97,0.97,0.965,0.96,
0.955,0.955,0.95,0.94,0.93,0.915,0.895,0.89,0.91,0.93,
0.945,0.95,0.955,0.955,0.955,0.96,0.96,0.965,0.97,0.97,
0.97,0.97,0.97,0.97,0.975,0.975,0.975,0.98,0.98,0.98,
0.985,0.99,0.99];
const p4_CoVZC45 = [0.93,0.925,0.92,0.915,0.92,0.92,0.91,0.90,0.86,0.84,
0.83,0.84,0.88,0.90,0.915,0.92,0.915,0.915,0.92,0.94,
0.95,0.95,0.94,0.93,0.91,0.90,0.895,0.905,0.91,0.91,
0.915,0.92,0.925,0.895,0.87,0.85,0.86,0.865,0.88,0.86,
0.87,0.885,0.91,0.90,0.875,0.865,0.875,0.885,0.89,0.885,
0.865,0.845,0.83,0.83,0.835,0.825,0.825,0.835,0.845,0.815,
0.74,0.68,0.62,0.63,0.66,0.685,0.72,0.76,0.80,0.84,
0.87,0.87,0.86,0.845,0.865,0.88,0.885,0.905,0.925,0.95,
0.93,0.915,0.90,0.91,0.905,0.91,0.92,0.925,0.92,0.925,
0.945,0.98,0.91];
const p4_CoVZXC21 = [0.93,0.93,0.925,0.92,0.925,0.93,0.93,0.90,0.83,0.81,
0.795,0.83,0.895,0.91,0.92,0.92,0.92,0.92,0.925,0.945,
0.955,0.955,0.945,0.935,0.915,0.905,0.90,0.91,0.915,0.915,
0.92,0.925,0.93,0.90,0.86,0.845,0.85,0.86,0.875,0.855,
0.87,0.885,0.91,0.90,0.875,0.86,0.87,0.88,0.89,0.885,
0.865,0.845,0.825,0.825,0.83,0.82,0.825,0.84,0.88,0.86,
0.76,0.70,0.67,0.66,0.68,0.71,0.75,0.79,0.82,0.86,
0.88,0.875,0.865,0.85,0.87,0.885,0.89,0.91,0.93,0.955,
0.935,0.92,0.905,0.915,0.91,0.915,0.925,0.93,0.925,0.93,
0.95,0.985,0.89];
const p4_SARS = [0.83,0.80,0.755,0.715,0.66,0.65,0.665,0.62,0.65,0.665,
0.61,0.66,0.69,0.74,0.755,0.755,0.76,0.74,0.72,0.72,
0.74,0.765,0.79,0.78,0.765,0.755,0.765,0.75,0.78,0.79,
0.81,0.82,0.815,0.805,0.82,0.845,0.85,0.86,0.88,0.855,
0.87,0.89,0.915,0.905,0.88,0.86,0.87,0.885,0.895,0.89,
0.87,0.845,0.825,0.825,0.83,0.82,0.82,0.83,0.84,0.81,
0.73,0.67,0.59,0.60,0.65,0.675,0.71,0.75,0.78,0.80,
0.815,0.815,0.83,0.815,0.80,0.79,0.80,0.83,0.82,0.855,
0.815,0.80,0.70,0.735,0.765,0.83,0.885,0.89,0.90,0.91,
0.93,0.99,0.98];
const p4_F46 = [0.83,0.80,0.755,0.715,0.66,0.65,0.665,0.62,0.65,0.665,
0.61,0.66,0.69,0.74,0.755,0.755,0.76,0.74,0.72,0.72,
0.74,0.765,0.79,0.78,0.765,0.755,0.765,0.75,0.78,0.79,
0.81,0.82,0.815,0.805,0.82,0.845,0.85,0.86,0.88,0.855,
0.87,0.89,0.915,0.905,0.88,0.86,0.87,0.885,0.895,0.89,
0.87,0.845,0.825,0.825,0.83,0.82,0.82,0.83,0.84,0.81,
0.73,0.64,0.51,0.56,0.58,0.64,0.68,0.75,0.78,0.80,
0.815,0.815,0.83,0.815,0.80,0.79,0.80,0.83,0.82,0.855,
0.815,0.80,0.76,0.79,0.805,0.84,0.885,0.89,0.90,0.91,
0.93,0.99,0.98];
const p4_YNLF = [0.83,0.80,0.755,0.715,0.66,0.65,0.665,0.62,0.65,0.665,
0.61,0.66,0.69,0.74,0.755,0.755,0.76,0.74,0.72,0.72,
0.74,0.765,0.79,0.78,0.765,0.755,0.765,0.75,0.78,0.79,
0.81,0.82,0.815,0.805,0.82,0.845,0.85,0.86,0.88,0.855,
0.87,0.89,0.915,0.905,0.88,0.86,0.87,0.885,0.895,0.89,
0.87,0.845,0.825,0.825,0.83,0.82,0.82,0.83,0.84,0.80,
0.73,0.67,0.605,0.57,0.58,0.64,0.69,0.75,0.78,0.80,
0.815,0.815,0.83,0.815,0.80,0.79,0.80,0.83,0.82,0.855,
0.815,0.80,0.69,0.73,0.76,0.80,0.885,0.89,0.90,0.91,
0.93,0.99,0.98];
const p4_LYRa11 = [0.83,0.80,0.755,0.715,0.66,0.63,0.66,0.615,0.65,0.665,
0.60,0.66,0.69,0.74,0.755,0.755,0.76,0.74,0.72,0.72,
0.74,0.765,0.80,0.78,0.765,0.755,0.765,0.75,0.78,0.79,
0.81,0.82,0.815,0.805,0.82,0.845,0.85,0.86,0.88,0.855,
0.87,0.89,0.915,0.905,0.88,0.86,0.87,0.885,0.895,0.89,
0.87,0.845,0.825,0.825,0.83,0.82,0.82,0.83,0.84,0.81,
0.73,0.67,0.605,0.62,0.655,0.675,0.71,0.75,0.78,0.80,
0.815,0.815,0.83,0.815,0.80,0.79,0.80,0.83,0.82,0.855,
0.815,0.80,0.76,0.79,0.805,0.84,0.885,0.89,0.90,0.91,
0.93,0.99,0.98];
const p4_HKU3 = [0.83,0.80,0.755,0.715,0.66,0.65,0.665,0.62,0.65,0.665,
0.61,0.66,0.69,0.74,0.755,0.755,0.76,0.74,0.72,0.72,
0.74,0.765,0.785,0.78,0.765,0.755,0.765,0.75,0.78,0.79,
0.81,0.82,0.815,0.805,0.82,0.845,0.85,0.86,0.88,0.855,
0.87,0.89,0.915,0.905,0.88,0.86,0.87,0.885,0.895,0.89,
0.87,0.845,0.825,0.825,0.83,0.82,0.82,0.83,0.84,0.81,
0.73,0.68,0.605,0.62,0.655,0.675,0.71,0.75,0.78,0.80,
0.815,0.815,0.83,0.815,0.80,0.79,0.80,0.83,0.82,0.855,
0.815,0.80,0.76,0.79,0.805,0.84,0.885,0.89,0.90,0.91,
0.93,0.99,0.98];
const p4_HuB2013 = [0.80,0.80,0.755,0.715,0.66,0.65,0.665,0.60,0.65,0.665,
0.595,0.66,0.69,0.74,0.755,0.755,0.76,0.74,0.72,0.72,
0.74,0.765,0.79,0.78,0.765,0.755,0.765,0.75,0.78,0.79,
0.81,0.82,0.815,0.805,0.82,0.845,0.85,0.86,0.88,0.855,
0.87,0.89,0.915,0.905,0.88,0.86,0.87,0.885,0.895,0.89,
0.87,0.845,0.825,0.825,0.83,0.82,0.82,0.83,0.84,0.81,
0.73,0.67,0.59,0.62,0.655,0.675,0.71,0.75,0.78,0.80,
0.815,0.815,0.83,0.815,0.80,0.79,0.80,0.83,0.82,0.855,
0.815,0.80,0.76,0.79,0.805,0.84,0.885,0.89,0.90,0.91,
0.93,0.99,0.98];
const p4_RsSHC014 = [0.83,0.80,0.755,0.715,0.66,0.65,0.665,0.62,0.65,0.665,
0.61,0.66,0.69,0.74,0.755,0.755,0.76,0.74,0.72,0.72,
0.74,0.765,0.79,0.78,0.765,0.755,0.765,0.75,0.78,0.79,
0.81,0.82,0.815,0.805,0.82,0.845,0.85,0.86,0.88,0.855,
0.87,0.89,0.915,0.905,0.88,0.86,0.87,0.885,0.895,0.89,
0.87,0.845,0.825,0.825,0.83,0.82,0.82,0.83,0.84,0.81,
0.73,0.67,0.60,0.62,0.64,0.675,0.71,0.75,0.78,0.80,
0.815,0.815,0.83,0.815,0.80,0.79,0.80,0.83,0.82,0.855,
0.815,0.80,0.745,0.79,0.805,0.84,0.885,0.89,0.90,0.91,
0.93,0.99,0.98];
const p4_Rs4231 = [0.83,0.80,0.755,0.715,0.66,0.65,0.665,0.62,0.65,0.665,
0.61,0.66,0.69,0.74,0.755,0.755,0.76,0.74,0.72,0.72,
0.74,0.765,0.79,0.78,0.765,0.755,0.765,0.75,0.78,0.79,
0.81,0.82,0.815,0.805,0.82,0.845,0.85,0.86,0.88,0.855,
0.87,0.89,0.915,0.905,0.88,0.86,0.87,0.885,0.895,0.89,
0.87,0.845,0.825,0.825,0.83,0.82,0.82,0.83,0.84,0.81,
0.73,0.67,0.605,0.62,0.655,0.675,0.71,0.75,0.78,0.80,
0.815,0.815,0.83,0.815,0.80,0.79,0.80,0.83,0.82,0.855,
0.815,0.80,0.76,0.79,0.805,0.84,0.885,0.89,0.90,0.91,
0.93,0.99,0.98];
const p4_arrowPos = [1577,1577,2827,4674,7253,8561,21587,27743];
const p4_arrowVal = [0.882,0.596,0.761,0.706,0.736,0.722,0.482,0.662];
const p4_bracket = [11582,19412,0.783,0.717];

// ================= STYLE / LAYOUT =================
const FONT = "'Liberation Sans', Arial, Helvetica, sans-serif";
const RED = '#EA1D2C';
const GENE = '#5B9BD5';
const BAND = '#E6E6E6';
const colors = ['#5B9BD5','#FFC000','#ED7D31','#1A93AA','#4472C4','#70AD47','#255E91','#9E480E','#7F7F7F','#997300','#264478','#43682B'];
const lineWidths = [1.6,1.6,1.8,1.8,1.8,1.8,1.8,1.8,1.8,1.8,1.8,1.8];
const plotTops = [78,357,636,915];
const plotH = 242, plotL = 158, plotW = 740;
const geneTrack = {N: 1};
const geneLabelInside = {ORF1: true, Spike: true, E: true, M: true, N: true};
const calloutLayout = {
  ORF3a: {textY: 12, lineTop: 18, tipY: 53, dx: 0},
  ORF6:  {textY: 32, lineTop: 37, tipY: 53, dx: -11},
  ORF7a: {textY: 22, lineTop: 27, tipY: 53, dx: -13},
  ORF8:  {textY: 12, lineTop: 18, tipY: 53, dx: 6},
  ORF10: {textY: 31, lineTop: 37, tipY: 53, dx: 7}
};

const panels = [
  {pos: pos12, d: [p1_RaTG13,p1_CoVZC45,p1_CoVZXC21,p1_SARS,p1_F46,p1_YNLF,p1_LYRa11,p1_HKU3,p1_HuB2013,p1_RsSHC014,p1_Rs4231], ap: p1_arrowPos, av: p1_arrowVal, br: p1_bracket},
  {pos: pos12, d: [p2_RaTG13,p2_CoVZC45,p2_CoVZXC21,p2_SARS,p2_F46,p2_YNLF,p2_LYRa11,p2_HKU3,p2_HuB2013,p2_RsSHC014,p2_Rs4231], ap: p2_arrowPos, av: p2_arrowVal, br: p2_bracket},
  {pos: pos34, d: [p3_RaTG13,p3_CoVZC45,p3_CoVZXC21,p3_SARS,p3_F46,p3_YNLF,p3_LYRa11,p3_HKU3,p3_HuB2013,p3_RsSHC014,p3_Rs4231], ap: p3_arrowPos, av: p3_arrowVal, br: p3_bracket},
  {pos: pos34, d: [p4_RaTG13,p4_CoVZC45,p4_CoVZXC21,p4_SARS,p4_F46,p4_YNLF,p4_LYRa11,p4_HKU3,p4_HuB2013,p4_RsSHC014,p4_Rs4231], ap: p4_arrowPos, av: p4_arrowVal, br: p4_bracket}
];

function arrowShape(x, y, len) {
  len = len || 20;
  return [[x, y],[x+5, y+9],[x+1.6, y+9],[x+1.6, y+len],[x-1.6, y+len],[x-1.6, y+9],[x-5, y+9]];
}
function headShape(x, y) { return [[x, y],[x+5, y+9],[x-5, y+9]]; }

const grids = [], xAxes = [], yAxes = [], series = [];
plotTops.forEach((top, i) => {
  grids.push({left: plotL, top: top, width: plotW, height: plotH, show: true, borderColor: '#8c8c8c', borderWidth: 1, backgroundColor: '#fff', containLabel: false, outerBoundsMode: 'none'});
  xAxes.push({gridIndex: i, type: 'value', min: 0, max: 29900,
    axisLine: {show: false}, splitLine: {show: false},
    axisTick: {show: true, inside: true, length: 4, customValues: xTickMarks, lineStyle: {color: '#888'}},
    axisLabel: {customValues: xTickLabels, fontSize: 13, color: '#333', margin: 5, fontFamily: FONT, formatter: v => String(v)}});
  yAxes.push({gridIndex: i, type: 'value', min: 0.3, max: 1.1, interval: 0.1,
    axisLine: {show: false}, axisTick: {show: false}, splitLine: {show: false},
    axisLabel: {fontSize: 9.5, color: '#8a8a8a', margin: 5, fontFamily: FONT, formatter: v => String(Math.round(v * 10) / 10)},
    name: yAxisName, nameLocation: 'middle', nameGap: 25, nameRotate: 90,
    nameTextStyle: {fontSize: 15, color: '#222', fontFamily: FONT}});
});
// genome map grid
grids.push({left: plotL, top: 4.6, width: plotW, height: 62.4, show: false, outerBoundsMode: 'none'});
xAxes.push({gridIndex: 4, type: 'value', min: 0, max: 29900, show: false});
yAxes.push({gridIndex: 4, type: 'value', min: -0.5, max: 4.3, show: false});

panels.forEach((p, i) => {
  // shaded gene regions
  series.push({type: 'custom', name: '_bands' + i, xAxisIndex: i, yAxisIndex: i, z: 0, silent: true,
    data: shadedStarts.map((s, j) => [s, shadedEnds[j]]),
    encode: {x: [0, 1]},
    renderItem: (params, api) => {
      const cs = params.coordSys;
      const x1 = api.coord([api.value(0), 1])[0];
      const x2 = api.coord([api.value(1), 1])[0];
      return {type: 'rect', shape: {x: x1, y: cs.y, width: x2 - x1, height: cs.height}, style: {fill: BAND}};
    }});
  // Human SARS-CoV-2 self line
  series.push({type: 'line', name: seriesNames[0], xAxisIndex: i, yAxisIndex: i, z: 2, silent: true,
    showSymbol: false, symbol: 'none', color: colors[0], lineStyle: {width: lineWidths[0], color: colors[0]},
    data: sars2Pos.map((x, j) => [x, sars2Val[j]])});
  p.d.forEach((vals, k) => {
    const c = colors[k + 1];
    series.push({type: 'line', name: seriesNames[k + 1], xAxisIndex: i, yAxisIndex: i, z: 2, silent: true,
      showSymbol: false, symbol: 'none', color: c, lineStyle: {width: lineWidths[k + 1], color: c},
      data: p.pos.map((x, j) => [x, vals[j]])});
  });
  // red arrows
  series.push({type: 'custom', name: '_arrows' + i, xAxisIndex: i, yAxisIndex: i, z: 10, silent: true, clip: false,
    data: p.ap.map((x, j) => [x, p.av[j]]),
    renderItem: (params, api) => {
      const pt = api.coord([api.value(0), api.value(1)]);
      return {type: 'polygon', shape: {points: arrowShape(pt[0], pt[1], 20)}, style: {fill: RED}};
    }});
  // recombination bracket
  series.push({type: 'custom', name: '_bracket' + i, xAxisIndex: i, yAxisIndex: i, z: 10, silent: true, clip: false,
    data: [p.br],
    renderItem: (params, api) => {
      const pL = api.coord([api.value(0), api.value(2)]);
      const pR = api.coord([api.value(1), api.value(2)]);
      const yl = api.coord([api.value(0), api.value(3)])[1];
      return {type: 'group', children: [
        {type: 'polyline', shape: {points: [[pL[0], pL[1] + 8], [pL[0], yl], [pR[0], yl], [pR[0], pR[1] + 8]]}, style: {stroke: RED, lineWidth: 3, fill: null, lineJoin: 'miter'}},
        {type: 'polygon', shape: {points: headShape(pL[0], pL[1])}, style: {fill: RED}},
        {type: 'polygon', shape: {points: headShape(pR[0], pR[1])}, style: {fill: RED}}
      ]};
    }});
});

// genome map genes
series.push({type: 'custom', name: '_genes', xAxisIndex: 4, yAxisIndex: 4, z: 3, silent: true, clip: false,
  data: geneNames.map((n, i) => [geneStarts[i], geneEnds[i], i]),
  renderItem: (params, api) => {
    const name = geneNames[api.value(2)];
    const track = geneTrack[name] || 0;
    const a = api.coord([api.value(0), track]);
    const x1 = a[0], yc = a[1];
    const x2 = api.coord([api.value(1), track])[0];
    const h = 11, w = x2 - x1, tip = Math.min(5, w * 0.5);
    const notch = w < 14 ? tip * 0.8 : 0;
    const pts = [[x1, yc - h / 2], [x2 - tip, yc - h / 2], [x2, yc], [x2 - tip, yc + h / 2], [x1, yc + h / 2], [x1 + notch, yc]];
    const ch = [{type: 'polygon', shape: {points: pts}, style: {fill: GENE}}];
    if (geneLabelInside[name]) ch.push({type: 'text', style: {text: name, x: (x1 + x2 - tip) / 2, y: yc, align: 'center', verticalAlign: 'middle', fontSize: 8.5, fontFamily: FONT, fill: '#1a1a1a'}});
    return {type: 'group', children: ch};
  }});
// gene callouts
series.push({type: 'custom', name: '_callouts', xAxisIndex: 4, yAxisIndex: 4, z: 3, silent: true, clip: false,
  data: calloutPos.map((x, i) => [x, i]),
  renderItem: (params, api) => {
    const name = calloutNames[api.value(1)];
    const L = calloutLayout[name];
    const x = api.coord([api.value(0), 0])[0];
    return {type: 'group', children: [
      {type: 'line', shape: {x1: x, y1: L.lineTop, x2: x, y2: L.tipY - 4}, style: {stroke: '#444', lineWidth: 1}},
      {type: 'polygon', shape: {points: [[x - 2.5, L.tipY - 5], [x + 2.5, L.tipY - 5], [x, L.tipY]]}, style: {fill: '#444'}},
      {type: 'text', style: {text: name, x: x + L.dx, y: L.textY, align: 'center', verticalAlign: 'middle', fontSize: 8.5, fontFamily: FONT, fill: '#222'}}
    ]};
  }});

const graphic = [
  {type: 'text', left: 129, top: 30, style: {text: genomeTitle, fontSize: 13, lineHeight: 15, fontFamily: FONT, fill: '#333'}}
];
plotTops.forEach((top, i) => {
  graphic.push({type: 'text', left: 12, top: top + 0.5, style: {text: panelTitles[i].join('\n'), fontSize: 15, lineHeight: 19, fontFamily: FONT, fill: '#111'}});
});
graphic.push(
  {type: 'polyline', shape: {points: [[936, 568], [936, 580], [973, 580], [973, 568]]}, style: {stroke: RED, lineWidth: 3, fill: null}},
  {type: 'polygon', shape: {points: headShape(936, 560)}, style: {fill: RED}},
  {type: 'polygon', shape: {points: headShape(973, 560)}, style: {fill: RED}},
  {type: 'polygon', shape: {points: arrowShape(955, 611, 21)}, style: {fill: RED}},
  {type: 'text', left: 987, top: 555, style: {text: legendNote1.join('\n'), fontSize: 13, lineHeight: 15.5, fontFamily: FONT, fill: '#444'}},
  {type: 'text', left: 987, top: 604, style: {text: legendNote2.join('\n'), fontSize: 13, lineHeight: 16, fontFamily: FONT, fill: '#444'}}
);

const option = {
  animation: false,
  backgroundColor: '#fff',
  textStyle: {fontFamily: FONT},
  grid: grids, xAxis: xAxes, yAxis: yAxes,
  legend: {data: seriesNames, orient: 'vertical', left: 935, top: 84, padding: 0, itemWidth: 40, itemHeight: 3, icon: 'rect',
    itemGap: 11, selectedMode: false,
    formatter: n => boldNames.includes(n) ? '{b|' + n + '}' : n,
    textStyle: {fontSize: 13, color: '#333', lineHeight: 14, fontFamily: FONT, padding: [0, 0, 0, 6],
      rich: {b: {fontWeight: 'bold', fontSize: 13, color: '#333', lineHeight: 14, fontFamily: FONT}}}},
  graphic: graphic,
  series: series
};
const chart = echarts.init(document.getElementById('c'), null, {renderer: 'svg'});
chart.setOption(option);
</script>
</body></html>
